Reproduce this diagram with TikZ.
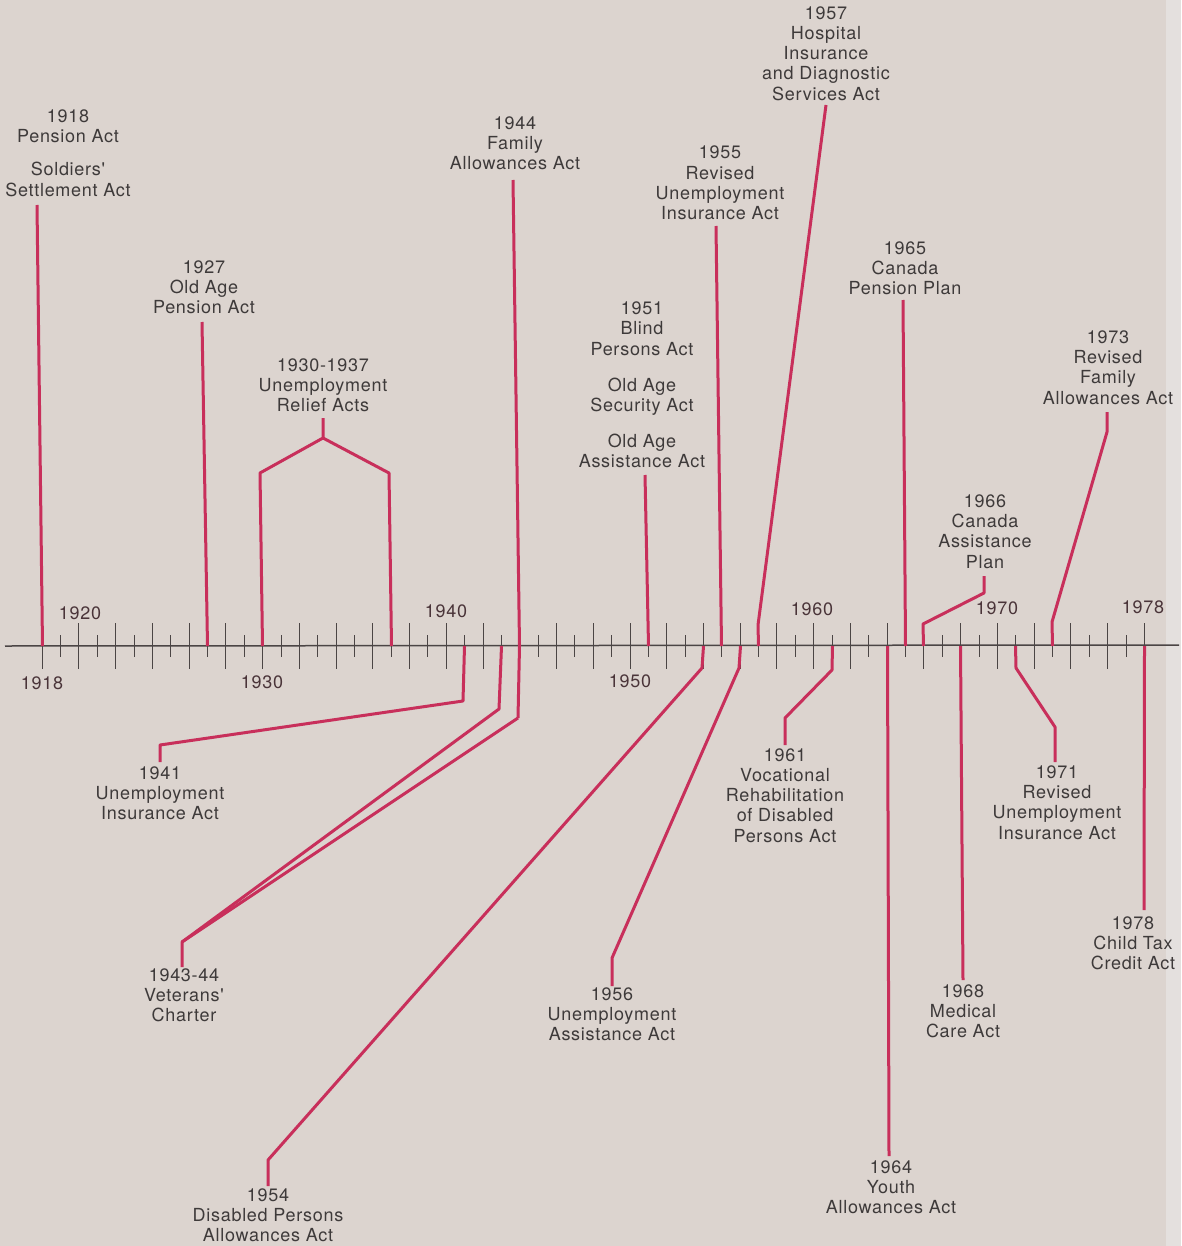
\documentclass[tikz,border=0pt]{standalone}
\usepackage{fontspec}
\setmainfont{TeX Gyre Heros}
\newfontfamily\actfont[LetterSpace=4]{TeX Gyre Heros}
\usetikzlibrary{positioning}
\definecolor{paper}{HTML}{DCD4CF}
\definecolor{pageedge}{HTML}{E4E0DE}
\definecolor{ink}{HTML}{3E3A3A}
\definecolor{yearink}{HTML}{4A3439}
\definecolor{actred}{HTML}{C82F5B}
\definecolor{tickgray}{HTML}{4B4545}

\begin{document}
\begin{tikzpicture}[x=1pt,y=-1pt,
 act/.style={align=center,font=\actfont\fontsize{18}{20.2}\selectfont,text=ink,inner sep=0pt},
 yearlbl/.style={font=\actfont\fontsize{18}{20}\selectfont,text=yearink,inner sep=0pt},
 link/.style={draw=actred,line width=3pt,line join=round},
 tick/.style={draw=tickgray,line width=1pt},
 axisline/.style={draw=tickgray,line width=1.5pt}
]
\fill[paper] (0,0) rectangle (1181,1246);
\fill[pageedge] (1166,0) rectangle (1181,1246);
\useasboundingbox (0,0) rectangle (1181,1246);

% time axis, one tick per year
\coordinate (axisL) at (5,646);
\coordinate (axisR) at (1179,645);
\draw[axisline] (axisL) -- (axisR);
\foreach \yy in {1918,...,1978}{
  \pgfmathsetmacro{\tx}{round(41.7+(\yy-1918)*18.37)+0.5}
  \coordinate (y\yy) at (\tx,646);
  \ifodd\yy
    \draw[tick] (\tx,635) -- (\tx,657);
  \else
    \draw[tick] (\tx,623) -- (\tx,669);
  \fi
}
\node[yearlbl] (yl1918) at (42,683) {1918};
\node[yearlbl] (yl1920) at (80,613) {1920};
\node[yearlbl] (yl1930) at (262,682) {1930};
\node[yearlbl] (yl1940) at (446,611) {1940};
\node[yearlbl] (yl1950) at (630,681) {1950};
\node[yearlbl] (yl1960) at (812,609) {1960};
\node[yearlbl] (yl1970) at (997,608) {1970};
\node[yearlbl] (yl1978) at (1143,607) {1978};

% acts above the axis
\node[act] (pension18) at (68,153) {1918\\Pension Act\\[13pt]Soldiers'\\Settlement Act};
\node[act] (oldage27) at (204,287.5) {1927\\Old Age\\Pension Act};
\node[act] (relief30) at (323,385) {1930-1937\\Unemployment\\Relief Acts};
\node[act] (family44) at (515,143) {1944\\Family\\Allowances Act};
\node[act] (blind51) at (642,385) {1951\\Blind\\Persons Act\\[16pt]Old Age\\Security Act\\[16pt]Old Age\\Assistance Act};
\node[act] (revui55) at (720,183) {1955\\Revised\\Unemployment\\Insurance Act};
\node[act] (hospital57) at (826,53.5) {1957\\Hospital\\Insurance\\and Diagnostic\\Services Act};
\node[act] (pensionplan65) at (905,268) {1965\\Canada\\Pension Plan};
\node[act] (assist66) at (985,531.5) {1966\\Canada\\Assistance\\Plan};
\node[act] (revfam73) at (1108,367.5) {1973\\Revised\\Family\\Allowances Act};

% acts below the axis
\node[act] (ui41) at (160,793) {1941\\Unemployment\\Insurance Act};
\node[act] (veterans) at (184,995.5) {1943-44\\Veterans'\\Charter};
\node[act] (disabled54) at (268,1215) {1954\\Disabled Persons\\Allowances Act};
\node[act] (uassist56) at (612,1014) {1956\\Unemployment\\Assistance Act};
\node[act] (vocational61) at (785,795.5) {1961\\Vocational\\Rehabilitation\\of Disabled\\Persons Act};
\node[act] (youth64) at (891,1187) {1964\\Youth\\Allowances Act};
\node[act] (medical68) at (963,1011.5) {1968\\Medical\\Care Act};
\node[act] (revui71) at (1057,802.5) {1971\\Revised\\Unemployment\\Insurance Act};
\node[act] (childtax78) at (1133,943.5) {1978\\Child Tax\\Credit Act};

% free ends of the connectors
\coordinate (e1918) at (37,205);
\coordinate (e1927) at (202,322);
\coordinate (e1930) at (323,418);
\coordinate (e1943) at (182,967);
\coordinate (e1944) at (513,180);
\coordinate (e1941) at (160,762);
\coordinate (e1951) at (645,475);
\coordinate (e1954) at (268,1186);
\coordinate (e1955) at (716,226);
\coordinate (e1956) at (612,986);
\coordinate (e1957) at (826,105);
\coordinate (e1961) at (785,745);
\coordinate (e1964) at (889,1156);
\coordinate (e1965) at (903,300);
\coordinate (e1966) at (984,576);
\coordinate (e1968) at (963,980);
\coordinate (e1971) at (1055,762);
\coordinate (e1973) at (1107,412);
\coordinate (e1978) at (1144,910);
\coordinate (vetjoin) at (182,942);
\coordinate (reliefjoin) at (323,438);

% connectors
\draw[link] (y1918) -- (e1918);
\draw[link] (y1927) -- (e1927);
\draw[link] (y1930) -- (260,473) -- (reliefjoin) -- (e1930);
\draw[link] (y1937) -- (389,473) -- (reliefjoin);
\draw[link] (y1941) -- (463,701) -- (160,745) -- (e1941);
\draw[link] (y1943) -- (499,709) -- (vetjoin) -- (e1943);
\draw[link] (518,718) -- (y1944) -- (e1944);
\draw[link] (518,718) -- (vetjoin);
\draw[link] (y1951) -- (e1951);
\draw[link] (y1954) -- (702,668) -- (268,1160) -- (e1954);
\draw[link] (y1955) -- (e1955);
\draw[link] (y1956) -- (739,668) -- (612,958) -- (e1956);
\draw[link] (y1957) -- (758,625) -- (e1957);
\draw[link] (y1961) -- (832,670) -- (785,718) -- (e1961);
\draw[link] (y1964) -- (e1964);
\draw[link] (y1965) -- (e1965);
\draw[link] (y1966) -- (923,624) -- (984,593) -- (e1966);
\draw[link] (y1968) -- (e1968);
\draw[link] (y1971) -- (1016,668) -- (1055,727) -- (e1971);
\draw[link] (y1973) -- (1052,622) -- (1107,432) -- (e1973);
\draw[link] (y1978) -- (e1978);
\end{tikzpicture}
\end{document}
